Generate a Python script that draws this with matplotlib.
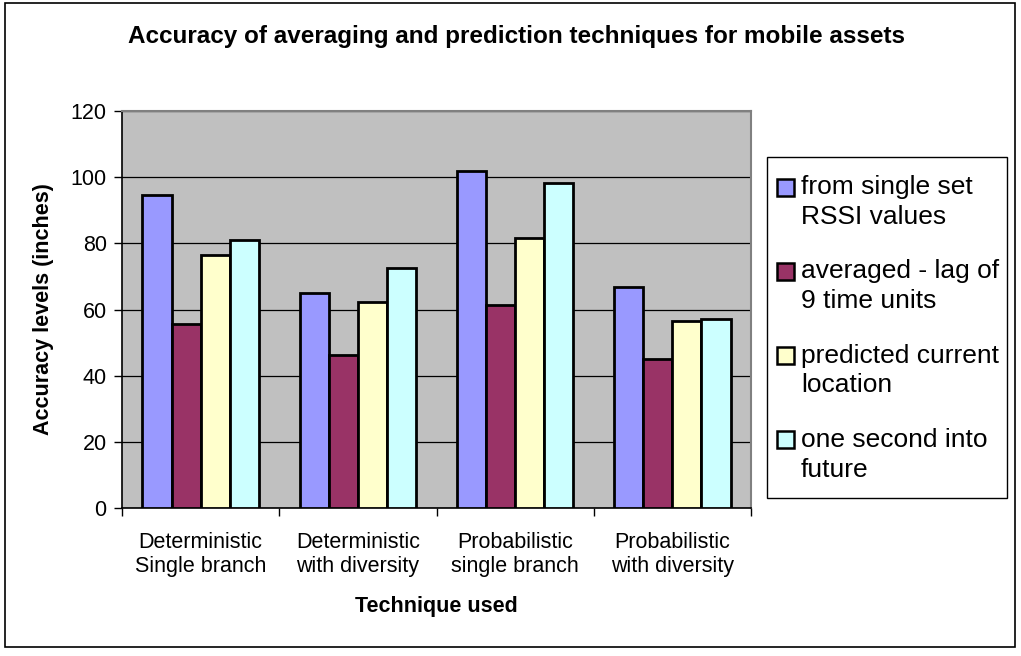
import numpy as np
import matplotlib
matplotlib.use('Agg')
import matplotlib.pyplot as plt
from matplotlib.patches import Rectangle

plt.rcParams['font.family'] = ['Liberation Sans', 'DejaVu Sans']

categories = ['Deterministic\nSingle branch', 'Deterministic\nwith diversity',
              'Probabilistic\nsingle branch', 'Probabilistic\nwith diversity']
series_names = ['from single set\nRSSI values', 'averaged - lag of\n9 time units',
                'predicted current\nlocation', 'one second into\nfuture']
single_set = [94.6, 65.0, 101.8, 66.9]
averaged = [55.5, 46.1, 61.5, 45.0]
predicted = [76.4, 62.2, 81.6, 56.4]
one_second = [80.9, 72.6, 98.1, 57.1]
colors = ['#9999FF', '#993366', '#FFFFCC', '#CCFFFF']

fig = plt.figure(figsize=(10.21, 6.56), dpi=100)
W, H = 1021, 656
# outer chart border
fig.patches.append(Rectangle((5 / W, 9 / H), 1010 / W, 644 / H, transform=fig.transFigure,
                             fill=False, edgecolor='black', lw=1.2))

ax = fig.add_axes([122 / W, 1 - 508 / H, (751 - 122) / W, (508 - 111) / H])
ax.set_facecolor('#C0C0C0')

x = np.arange(len(categories))
w = 0.185
data = [single_set, averaged, predicted, one_second]
for i, vals in enumerate(data):
    ax.bar(x + (i - 1.5) * w, vals, w, color=colors[i], edgecolor='black',
           linewidth=2.0, label=series_names[i], zorder=3)

ax.set_xlim(-0.5, 3.5)
ax.set_ylim(0, 120)
ax.set_yticks(range(0, 121, 20))
ax.yaxis.grid(True, color='black', lw=0.9, zorder=1)
ax.set_axisbelow(True)

ax.set_xticks(np.arange(-0.5, 4, 1))
ax.set_xticklabels([])
ax.set_xticks(x, minor=True)
ax.set_xticklabels(categories, minor=True, fontsize=15.5)
ax.tick_params(axis='x', which='minor', length=0, pad=17)
ax.tick_params(axis='x', which='major', length=6, width=1, direction='out')
ax.tick_params(axis='y', length=6, width=1, direction='out', labelsize=15.5, pad=5)

for s in ['top', 'right']:
    ax.spines[s].set_color('#808080')
    ax.spines[s].set_linewidth(1.5)
ax.spines['left'].set_linewidth(1.2)
ax.spines['bottom'].set_linewidth(1.2)

ax.set_ylabel('Accuracy levels (inches)', fontsize=15.5, fontweight='bold', labelpad=12)
ax.set_xlabel('Technique used', fontsize=15.5, fontweight='bold', labelpad=14)
fig.text(516 / W, 1 - 37 / H, 'Accuracy of averaging and prediction techniques for mobile assets',
         ha='center', va='center', fontsize=17.5, fontweight='bold')

# legend, Excel style: square key beside the first line of each label
fig.patches.append(Rectangle((767 / W, 1 - 498 / H), 240 / W, 341 / H, transform=fig.transFigure,
                             fill=False, edgecolor='black', lw=1.0))
step = 84.3
for i, name in enumerate(series_names):
    yc = 187 + i * step
    fig.patches.append(Rectangle((777 / W, 1 - (yc + 8.5) / H), 17 / W, 17 / H,
                                 transform=fig.transFigure, facecolor=colors[i],
                                 edgecolor='black', lw=1.8))
    t = fig.text(801 / W, 1 - (yc + 15) / H, name, ha='left', va='center', fontsize=19)
    t.set_linespacing(1.3)

fig.savefig('out.png', dpi=100)
